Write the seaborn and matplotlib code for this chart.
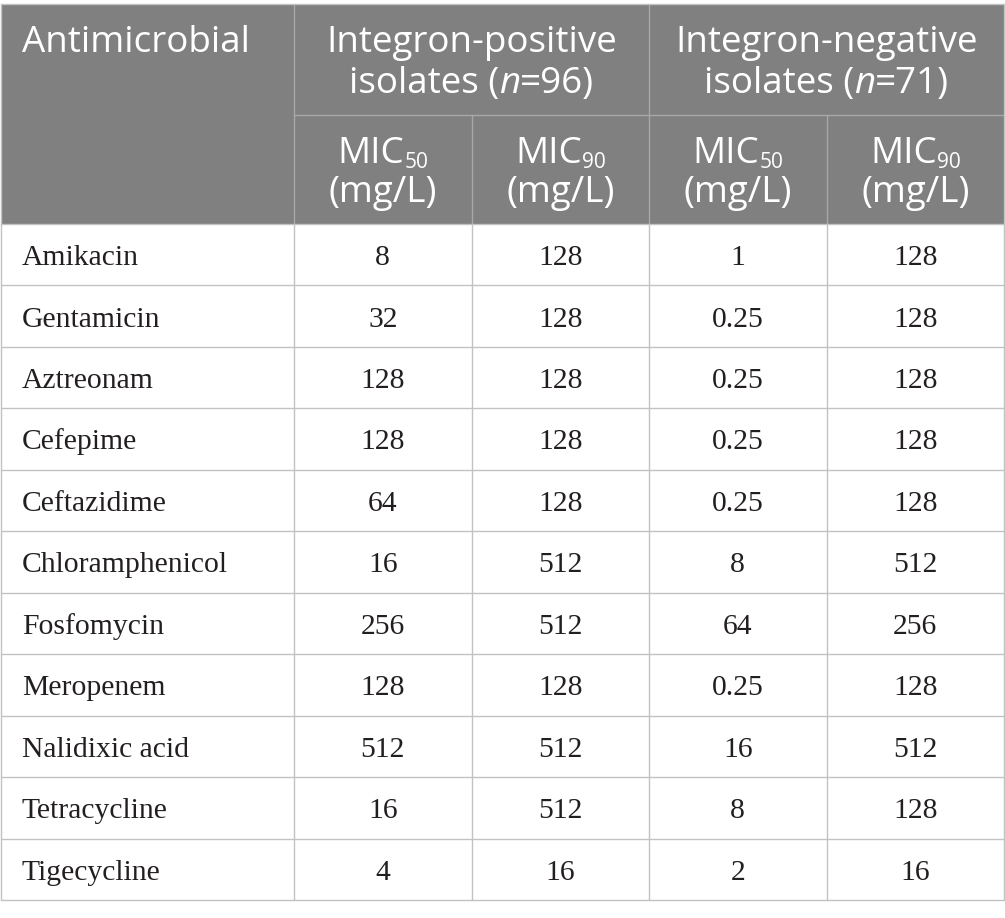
import numpy as np
import pandas as pd
import matplotlib
matplotlib.use("Agg")
import matplotlib.pyplot as plt
from matplotlib.colors import ListedColormap
from matplotlib.patches import Rectangle
import seaborn as sns

# ---------------- data ----------------
antimicrobials = ["Amikacin", "Gentamicin", "Aztreonam", "Cefepime", "Ceftazidime",
                  "Chloramphenicol", "Fosfomycin", "Meropenem", "Nalidixic acid",
                  "Tetracycline", "Tigecycline"]
pos_mic50 = [8, 32, 128, 128, 64, 16, 256, 128, 512, 16, 4]
pos_mic90 = [128, 128, 128, 128, 128, 512, 512, 128, 512, 512, 16]
neg_mic50 = [1, 0.25, 0.25, 0.25, 0.25, 8, 64, 0.25, 16, 8, 2]
neg_mic90 = [128, 128, 128, 128, 128, 512, 256, 128, 512, 128, 16]
group_labels = ["Integron-positive", "Integron-negative"]
group_n = [96, 71]
sub_labels = ["50", "90", "50", "90"]

df = pd.DataFrame({"p50": pos_mic50, "p90": pos_mic90, "n50": neg_mic50, "n90": neg_mic90},
                  index=antimicrobials)

# ---------------- layout (pixels) ----------------
W, H = 1005, 918
col_x = [0.5, 294, 472, 649, 827, 1004]
top, hdr_mid, hdr_bot, bot = 4, 115, 224, 900
nrows = len(antimicrobials)
row_h = (bot - hdr_bot) / nrows
BASE_FRAC = 0.668

HDR_BG = "#808080"
HDR_LINE = "#a8a8a8"
BODY_LINE = "#c2c2c2"
TXT = "#231f20"
SANS = ["Open Sans", "DejaVu Sans"]
SERIF = ["Liberation Serif", "DejaVu Serif"]
HFS = 26.5
SUBFS = 15
BFS = 21.3

sns.set_theme(style="white")
plt.rcParams["font.family"] = SANS

fig = plt.figure(figsize=(W / 100, H / 100), dpi=100)
fig.patch.set_facecolor("white")

# body numbers via seaborn heatmap
axh = fig.add_axes([col_x[1] / W, 1 - bot / H, (col_x[5] - col_x[1]) / W, (bot - hdr_bot) / H])
sns.heatmap(df, ax=axh, cmap=ListedColormap(["white"]), cbar=False, annot=True, fmt="g",
            linewidths=0, xticklabels=False, yticklabels=False,
            annot_kws={"fontfamily": SERIF, "fontsize": BFS, "color": TXT})
for t in axh.texts:
    x, y = t.get_position()
    t.set_position((x, y - 0.5 + BASE_FRAC))
    t.set_va("baseline")
axh.set_xlabel("")
axh.set_ylabel("")
for s in axh.spines.values():
    s.set_visible(False)

# overlay axes in pixel coordinates
ax = fig.add_axes([0, 0, 1, 1])
ax.set_xlim(0, W)
ax.set_ylim(H, 0)
ax.axis("off")
ax.patch.set_alpha(0)

ax.add_patch(Rectangle((col_x[0], top), col_x[5] - col_x[0], hdr_bot - top,
                       facecolor=HDR_BG, edgecolor="none", zorder=1))

renderer = fig.canvas.get_renderer()


def rich(xc, yb, segs):
    """segs: list of (text, fontsize, style, dy)"""
    objs = []
    total = 0
    for s, fs, st, dy in segs:
        t = ax.text(0, yb + dy, s, fontsize=fs, fontstyle=st, color="white",
                    ha="left", va="baseline", family=SANS, zorder=5)
        w = t.get_window_extent(renderer=renderer).width
        objs.append((t, w))
        total += w
    x = xc - total / 2
    for t, w in objs:
        t.set_x(x)
        x += w


ax.text(22, 52, "Antimicrobial", fontsize=HFS, color="white", ha="left", va="baseline",
        family=SANS, zorder=5)
for g in range(2):
    xc = (col_x[1 + 2 * g] + col_x[3 + 2 * g]) / 2
    ax.text(xc, 52, group_labels[g], fontsize=HFS, color="white", ha="center",
            va="baseline", family=SANS, zorder=5)
    rich(xc, 93, [("isolates (", HFS, "normal", 0), ("n", HFS, "italic", 0),
                  (f"={group_n[g]})", HFS, "normal", 0)])
for c in range(4):
    xc = (col_x[1 + c] + col_x[2 + c]) / 2
    rich(xc, 163, [("MIC", HFS, "normal", 0), (sub_labels[c], SUBFS, "normal", 5)])
    ax.text(xc, 202, "(mg/L)", fontsize=HFS, color="white", ha="center", va="baseline",
            family=SANS, zorder=5)

# first column labels
for i, name in enumerate(antimicrobials):
    yb = hdr_bot + i * row_h + BASE_FRAC * row_h
    ax.text(22, yb, name, fontsize=BFS, color=TXT, ha="left", va="baseline",
            family=SERIF, zorder=5)

# grid lines
LW = 1.0
ax.plot([col_x[1], col_x[1]], [top, hdr_bot], color=HDR_LINE, lw=LW, zorder=3)
ax.plot([col_x[3], col_x[3]], [top, hdr_bot], color=HDR_LINE, lw=LW, zorder=3)
ax.plot([col_x[2], col_x[2]], [hdr_mid, hdr_bot], color=HDR_LINE, lw=LW, zorder=3)
ax.plot([col_x[4], col_x[4]], [hdr_mid, hdr_bot], color=HDR_LINE, lw=LW, zorder=3)
ax.plot([col_x[1], col_x[5]], [hdr_mid, hdr_mid], color=HDR_LINE, lw=LW, zorder=3)
for i in range(nrows + 1):
    y = hdr_bot + i * row_h
    ax.plot([col_x[0], col_x[5]], [y, y], color=BODY_LINE, lw=LW, zorder=3)
for xv in col_x:
    ax.plot([xv, xv], [hdr_bot, bot], color=BODY_LINE, lw=LW, zorder=3)
ax.plot([col_x[0], col_x[5]], [top, top], color=BODY_LINE, lw=LW, zorder=3)
ax.plot([col_x[0], col_x[0]], [top, hdr_bot], color=BODY_LINE, lw=LW, zorder=3)
ax.plot([col_x[5], col_x[5]], [top, hdr_bot], color=BODY_LINE, lw=LW, zorder=3)

fig.savefig("out.png", dpi=100)
